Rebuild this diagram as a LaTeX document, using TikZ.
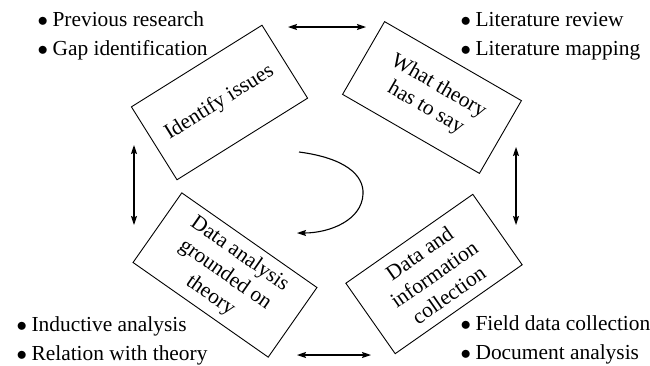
\documentclass[tikz,border=0pt]{standalone}
\usepackage{fontspec}
\setmainfont{Liberation Serif}
\usetikzlibrary{arrows.meta}
\newcommand{\mybul}{$\bullet$\hspace{4.5pt}}
\tikzset{
  stagebox/.style={draw, line width=0.9pt, inner sep=0pt, align=center,
    font=\fontsize{21.4}{25.5}\selectfont},
  listline/.style={anchor=base west, inner sep=0pt, font=\fontsize{21.4}{25}\selectfont},
  link/.style={line width=1.1pt, {Stealth[length=9pt,width=6pt,inset=1.5pt]}-{Stealth[length=9pt,width=6pt,inset=1.5pt]}},
  turn/.style={line width=1.1pt, -{Stealth[length=9pt,width=6pt,inset=1.5pt]}}
}
\begin{document}
\begin{tikzpicture}[x=1pt,y=-1pt]
\useasboundingbox (0,0) rectangle (650,365);
% stage boxes
\node[stagebox, minimum width=154pt, minimum height=86pt, rotate=32] (issues) at (219.5,102.5) {Identify issues};
\node[stagebox, minimum width=158pt, minimum height=84pt, rotate=-30] (theory) at (432,97.5) {What theory\\has to say};
\node[stagebox, minimum width=165pt, minimum height=85pt, rotate=-35] (analysis) at (225,275) {Data analysis\\grounded on\\theory};
\node[stagebox, minimum width=155pt, minimum height=86pt, rotate=35] (collect) at (434,274) {Data and\\information\\collection};
% lists
\node[listline] (l1a) at (37.5,26.5) {\mybul Previous research};
\node[listline] (l1b) at (37.5,55) {\mybul Gap identification};
\node[listline] (l2a) at (460.5,26.5) {\mybul Literature review};
\node[listline] (l2b) at (460.5,55) {\mybul Literature mapping};
\node[listline] (l3a) at (16.5,331.5) {\mybul Inductive analysis};
\node[listline] (l3b) at (16.5,360) {\mybul Relation with theory};
\node[listline] (l4a) at (460.5,330) {\mybul Field data collection};
\node[listline] (l4b) at (460.5,359) {\mybul Document analysis};
% double arrows
\coordinate (ta) at (288,27);
\coordinate (tb) at (366,27);
\coordinate (ba) at (297,355);
\coordinate (bb) at (371,355);
\coordinate (la) at (134,145);
\coordinate (lb) at (134,225);
\coordinate (ra) at (516,147);
\coordinate (rb) at (516,225);
\draw[link] (ta) -- (tb);
\draw[link] (ba) -- (bb);
\draw[link] (la) -- (lb);
\draw[link] (ra) -- (rb);
% turning arrow
\coordinate (cs) at (299,152);
\coordinate (cm) at (363,194);
\coordinate (ce) at (297,233);
\draw[turn] (cs) .. controls (345,158) and (364,175) .. (cm) .. controls (362,220) and (330,233) .. (ce);
\end{tikzpicture}
\end{document}
